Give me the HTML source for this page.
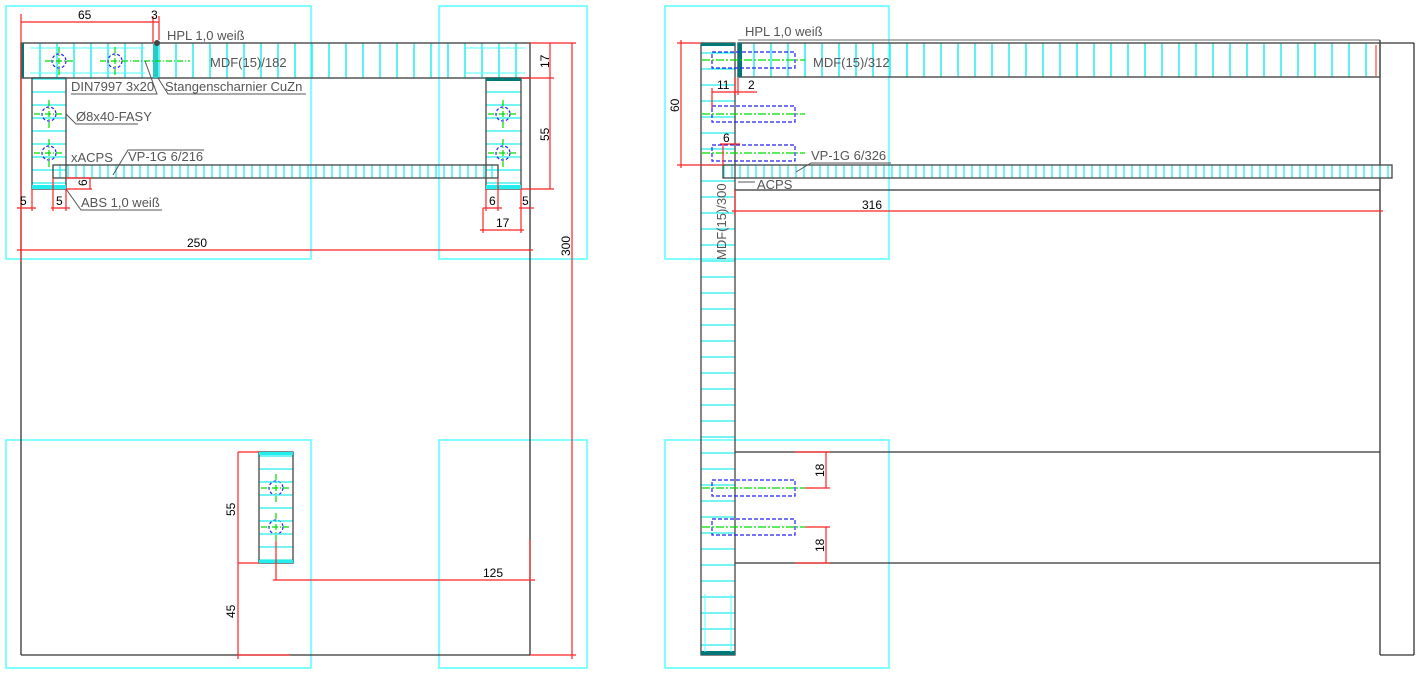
<!DOCTYPE html>
<html><head><meta charset="utf-8"><style>
html,body{margin:0;padding:0;background:#fff;width:1419px;height:675px;overflow:hidden}
svg{display:block}
text{font-family:"Liberation Sans","DejaVu Sans",sans-serif;font-size:13px;fill:#555}
.d{fill:#000;font-size:12px}
</style></head><body>
<svg width="1419" height="675" viewBox="0 0 1419 675" xmlns="http://www.w3.org/2000/svg">
<defs>
<pattern id="h17" x="5" y="0" width="17" height="40" patternUnits="userSpaceOnUse"><line x1="1" y1="0" x2="1" y2="40" stroke="#2ee" stroke-width="1.5"/></pattern>
<pattern id="h8" x="3" y="0" width="8" height="20" patternUnits="userSpaceOnUse"><line x1="1" y1="0" x2="1" y2="20" stroke="#2ee" stroke-width="1.3"/></pattern>
<pattern id="v16" x="0" y="4" width="40" height="16" patternUnits="userSpaceOnUse"><line x1="0" y1="1" x2="40" y2="1" stroke="#2ee" stroke-width="1.3"/></pattern>
<pattern id="v13" x="0" y="0" width="40" height="13" patternUnits="userSpaceOnUse"><line x1="0" y1="1" x2="40" y2="1" stroke="#2ee" stroke-width="1.2"/></pattern>
</defs>

<!-- cyan frames -->
<g fill="none" stroke="#5ff" stroke-width="1.5">
<rect x="6" y="6" width="305" height="253"/><rect x="439" y="6" width="148" height="253"/>
<rect x="6" y="440" width="305" height="228"/><rect x="439" y="440" width="148" height="228"/>
<rect x="665" y="6" width="224" height="253"/><rect x="665" y="440" width="224" height="228"/>
</g>

<!-- LEFT DRAWING -->
<g stroke="#333" stroke-width="1.3" fill="none">
<line x1="530" y1="78" x2="530" y2="655"/><line x1="21" y1="655" x2="530" y2="655"/>
<line x1="21" y1="78" x2="21" y2="655"/>
</g>
<rect x="21" y="43" width="509" height="35" fill="url(#h17)" stroke="#555" stroke-width="1.5"/>
<rect x="21" y="43" width="3" height="35" fill="#077"/>
<rect x="153" y="43" width="5" height="35" fill="#2cc"/>
<circle cx="157" cy="43" r="3" fill="#444"/>
<g stroke="#5ff" stroke-width="1"><line x1="30" y1="48" x2="145" y2="48"/><line x1="30" y1="73" x2="145" y2="73"/><line x1="465" y1="48" x2="525" y2="48"/><line x1="465" y1="73" x2="525" y2="73"/></g>
<!-- blocks -->
<rect x="32" y="78" width="34" height="111" fill="url(#v13)" stroke="#444" stroke-width="1.3"/>
<rect x="486" y="78" width="35" height="111" fill="url(#v13)" stroke="#444" stroke-width="1.3"/>
<rect x="32" y="185" width="34" height="4" fill="#2ee"/><rect x="486" y="185" width="35" height="4" fill="#2ee"/>
<rect x="486" y="78" width="35" height="3" fill="#077"/>
<rect x="53" y="165" width="445" height="13" fill="url(#h8)" stroke="#444" stroke-width="1.3"/>
<!-- dowels -->
<g fill="none" stroke="#22e" stroke-dasharray="3,2" stroke-width="1.2">
<circle cx="59" cy="61" r="7"/><circle cx="115" cy="61" r="7"/><circle cx="49" cy="114" r="7"/><circle cx="49" cy="153" r="7"/>
<circle cx="503" cy="114" r="7"/><circle cx="503" cy="153" r="7"/><circle cx="276" cy="488" r="7"/><circle cx="276" cy="527" r="7"/>
</g>
<g stroke="#0d0" stroke-width="1.2" stroke-dasharray="6,2,1,2">
<line x1="45" y1="61" x2="75" y2="61"/><line x1="59" y1="47" x2="59" y2="75"/>
<line x1="100" y1="61" x2="190" y2="61"/><line x1="115" y1="47" x2="115" y2="75"/>
<line x1="34" y1="114" x2="64" y2="114"/><line x1="49" y1="100" x2="49" y2="128"/>
<line x1="34" y1="153" x2="64" y2="153"/><line x1="49" y1="139" x2="49" y2="167"/>
<line x1="488" y1="114" x2="518" y2="114"/><line x1="503" y1="100" x2="503" y2="128"/>
<line x1="488" y1="153" x2="518" y2="153"/><line x1="503" y1="139" x2="503" y2="167"/>
<line x1="261" y1="488" x2="291" y2="488"/><line x1="276" y1="474" x2="276" y2="502"/>
<line x1="261" y1="527" x2="291" y2="527"/><line x1="276" y1="513" x2="276" y2="541"/>
</g>
<!-- bottom-left block -->
<rect x="259" y="452" width="34" height="111" fill="url(#v13)" stroke="#444" stroke-width="1.3"/>
<rect x="259" y="452" width="34" height="3" fill="#2ee"/><rect x="259" y="560" width="34" height="3" fill="#2ee"/>

<!-- left leader lines -->
<g stroke="#555" stroke-width="1" fill="none">
<polyline points="145,61 157,94 71,94"/><polyline points="158,78 168,94 306,94"/>
<polyline points="66,114 76,124 138,124"/><polyline points="113,175 128,150 204,150"/>
<polyline points="66,189 81,210 162,210"/><line x1="71" y1="94" x2="150" y2="94"/>
</g>
<text x="167" y="40">HPL 1,0 weiß</text>
<text x="210" y="67">MDF(15)/182</text>
<text x="71" y="91">DIN7997 3x20</text>
<text x="165" y="91">Stangenscharnier CuZn</text>
<text x="76" y="121">Ø8x40-FASY</text>
<text x="71" y="162">xACPS</text>
<text x="128" y="161">VP-1G 6/216</text>
<text x="81" y="207">ABS 1,0 weiß</text>

<!-- left dims -->
<g stroke="#f22" stroke-width="1.2" fill="none">
<line x1="21" y1="14" x2="21" y2="262"/>
<line x1="21" y1="22" x2="159" y2="22"/><line x1="153" y1="16" x2="153" y2="43"/><line x1="159" y1="16" x2="159" y2="40"/>
<line x1="17" y1="250" x2="533" y2="250"/><line x1="530" y1="43" x2="576" y2="43"/>
<line x1="572" y1="43" x2="572" y2="659"/><line x1="530" y1="655" x2="576" y2="655"/>
<line x1="550" y1="43" x2="550" y2="189"/><line x1="521" y1="78" x2="554" y2="78"/><line x1="521" y1="189" x2="554" y2="189"/>
<line x1="17" y1="208" x2="36" y2="208"/><line x1="32" y1="189" x2="32" y2="211"/>
<line x1="51" y1="208" x2="70" y2="208"/><line x1="53" y1="178" x2="53" y2="211"/><line x1="66" y1="189" x2="66" y2="211"/>
<line x1="66" y1="178" x2="92" y2="178"/><line x1="66" y1="189" x2="92" y2="189"/><line x1="90" y1="178" x2="90" y2="189"/>
<line x1="483" y1="208" x2="502" y2="208"/><line x1="486" y1="189" x2="486" y2="211"/><line x1="498" y1="178" x2="498" y2="211"/>
<line x1="519" y1="208" x2="534" y2="208"/><line x1="521" y1="189" x2="521" y2="233"/><line x1="483" y1="208" x2="483" y2="233"/>
<line x1="480" y1="230" x2="524" y2="230"/>
<line x1="238" y1="452" x2="238" y2="659"/><line x1="238" y1="452" x2="259" y2="452"/><line x1="238" y1="563" x2="259" y2="563"/><line x1="238" y1="655" x2="290" y2="655"/>
<line x1="276" y1="541" x2="276" y2="580"/><line x1="273" y1="580" x2="535" y2="580"/><line x1="530" y1="540" x2="530" y2="580"/>
</g>
<text class="d" x="78" y="19">65</text><text class="d" x="151" y="19">3</text>
<text class="d" x="187" y="247">250</text>
<text class="d" x="20" y="205">5</text><text class="d" x="56" y="205">5</text>
<text class="d" x="489" y="205">6</text><text class="d" x="522" y="205">5</text>
<text class="d" x="496" y="227">17</text><text class="d" x="483" y="577">125</text>
<text class="d" transform="translate(87,186) rotate(-90)">6</text>
<text class="d" transform="translate(549,68) rotate(-90)">17</text>
<text class="d" transform="translate(549,141) rotate(-90)">55</text>
<text class="d" transform="translate(570,256) rotate(-90)">300</text>
<text class="d" transform="translate(235,516) rotate(-90)">55</text>
<text class="d" transform="translate(235,618) rotate(-90)">45</text>

<!-- RIGHT DRAWING -->
<g stroke="#333" stroke-width="1.3" fill="none">
<line x1="738" y1="40" x2="1380" y2="40" stroke="#888"/>
<line x1="1380" y1="40" x2="1380" y2="655"/><line x1="1380" y1="43" x2="1414" y2="43"/>
<line x1="1414" y1="43" x2="1414" y2="655"/><line x1="1380" y1="655" x2="1414" y2="655"/>
<line x1="735" y1="190" x2="1380" y2="190"/>
<line x1="735" y1="452" x2="1380" y2="452"/><line x1="735" y1="563" x2="1380" y2="563"/>
</g>
<rect x="701" y="43" width="34" height="612" fill="url(#v16)" stroke="#444" stroke-width="1.3"/>
<rect x="701" y="43" width="34" height="3" fill="#077"/><rect x="701" y="651" width="34" height="4" fill="#077"/>
<g stroke="#5ff" stroke-width="1"><line x1="705" y1="594" x2="705" y2="652"/><line x1="731" y1="594" x2="731" y2="652"/></g>
<rect x="738" y="43" width="642" height="34" fill="url(#h17)" stroke="#555" stroke-width="1.5"/>
<rect x="738" y="43" width="4" height="34" fill="#077"/>
<line x1="1376" y1="45" x2="1376" y2="76" stroke="#f22"/>
<rect x="723" y="165" width="669" height="13" fill="url(#h8)" stroke="#444" stroke-width="1.3"/>
<g fill="none" stroke="#22e" stroke-dasharray="4,2" stroke-width="1.2">
<rect x="712" y="52" width="83" height="16"/><rect x="712" y="106" width="83" height="16"/><rect x="712" y="145" width="83" height="16"/>
<rect x="712" y="480" width="83" height="16"/><rect x="712" y="519" width="83" height="16"/>
</g>
<g stroke="#0d0" stroke-width="1.2" stroke-dasharray="8,2,2,2">
<line x1="702" y1="60" x2="805" y2="60"/><line x1="702" y1="114" x2="805" y2="114"/><line x1="702" y1="153" x2="805" y2="153"/>
<line x1="702" y1="488" x2="805" y2="488"/><line x1="702" y1="527" x2="805" y2="527"/>
</g>
<g stroke="#555" stroke-width="1" fill="none"><polyline points="796,172 811,163 891,163"/></g>
<g stroke="#555" stroke-width="1"><line x1="738" y1="182" x2="755" y2="182"/></g>
<text x="745" y="36">HPL 1,0 weiß</text>
<text x="813" y="67">MDF(15)/312</text>
<text x="811" y="160">VP-1G 6/326</text>
<text x="757" y="189">ACPS</text>
<text transform="translate(726,260) rotate(-90)">MDF(15)/300</text>
<g stroke="#f22" stroke-width="1.2" fill="none">
<line x1="677" y1="43" x2="701" y2="43"/><line x1="677" y1="165" x2="723" y2="165"/><line x1="681" y1="40" x2="681" y2="168"/>
<line x1="712" y1="92" x2="757" y2="92"/><line x1="712" y1="88" x2="712" y2="108"/><line x1="735" y1="78" x2="735" y2="95"/><line x1="738" y1="78" x2="738" y2="95"/>
<line x1="720" y1="144" x2="740" y2="144"/><line x1="723" y1="144" x2="723" y2="165"/>
<line x1="735" y1="190" x2="735" y2="215"/><line x1="732" y1="211" x2="1383" y2="211"/>
<line x1="795" y1="452" x2="830" y2="452"/><line x1="805" y1="488" x2="830" y2="488"/><line x1="826" y1="452" x2="826" y2="488"/>
<line x1="805" y1="527" x2="830" y2="527"/><line x1="795" y1="563" x2="830" y2="563"/><line x1="826" y1="527" x2="826" y2="563"/>
</g>
<text class="d" transform="translate(679,112) rotate(-90)">60</text>
<text class="d" x="717" y="89">11</text><text class="d" x="748" y="89">2</text>
<text class="d" x="723" y="142">6</text>
<text class="d" x="862" y="209">316</text>
<text class="d" transform="translate(824,477) rotate(-90)">18</text>
<text class="d" transform="translate(824,552) rotate(-90)">18</text>
</svg>
</body></html>
